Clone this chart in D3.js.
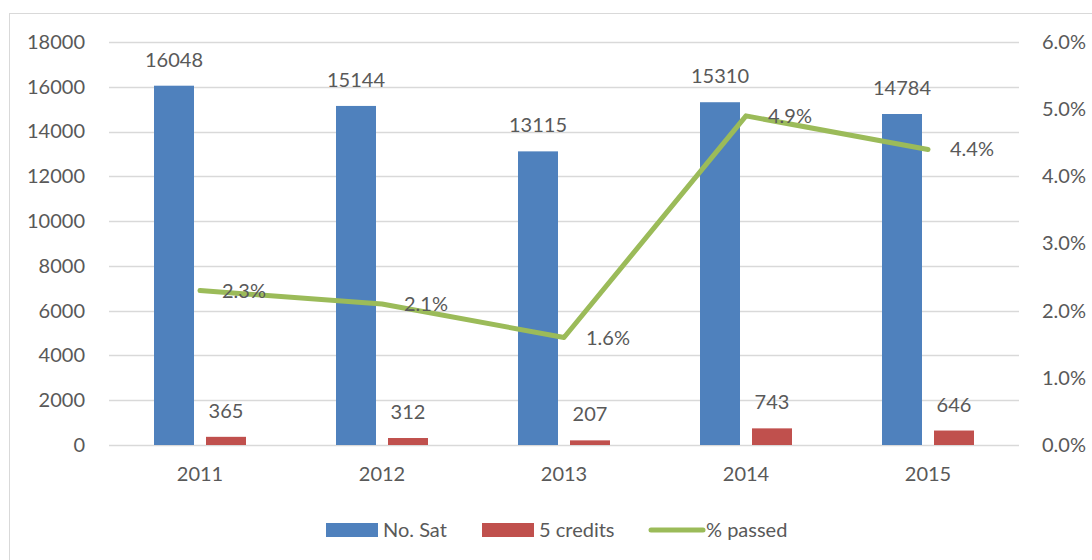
<!DOCTYPE html>
<html>
<head>
<meta charset="utf-8">
<script src="https://cdn.jsdelivr.net/npm/d3@7"></script>
<style>
  body { margin: 0; background: #fff; }
  text { font-family: Lato, "Open Sans", sans-serif; fill: #595959; }
</style>
</head>
<body>
<div id="chart"></div>
<script>
let years = ["2011", "2012", "2013", "2014", "2015"];
let noSat = [16048, 15144, 13115, 15310, 14784];
let credits = [365, 312, 207, 743, 646];
let passed = [2.3, 2.1, 1.6, 4.9, 4.4];
let leftTicks = [0, 2000, 4000, 6000, 8000, 10000, 12000, 14000, 16000, 18000];
let rightTicks = [0, 1, 2, 3, 4, 5, 6];

let svgWidth = 1092;
let svgHeight = 560;
let margin = { top: 42, right: 73, bottom: 115, left: 109 };
let chartWidth = svgWidth - margin.left - margin.right;
let chartHeight = svgHeight - margin.top - margin.bottom;
let fontSize = "20px";

let svg = d3.select("#chart").append("svg")
  .attr("width", svgWidth)
  .attr("height", svgHeight);

// outer frame
svg.append("rect")
  .attr("x", 9.5).attr("y", 13.5)
  .attr("width", svgWidth).attr("height", svgHeight)
  .attr("fill", "none")
  .attr("stroke", "#d9d9d9");

let g = svg.append("g")
  .attr("transform", `translate(${margin.left}, ${margin.top})`);

let x = d3.scaleBand().domain(years).range([0, chartWidth]);
let yLeft = d3.scaleLinear().domain([0, 18000]).range([chartHeight, 0]);
let yRight = d3.scaleLinear().domain([0, 6]).range([chartHeight, 0]);

// gridlines
g.append("g").selectAll("line")
  .data(leftTicks)
  .join("line")
  .attr("x1", 0).attr("x2", chartWidth)
  .attr("y1", d => Math.round(yLeft(d)) + 0.5)
  .attr("y2", d => Math.round(yLeft(d)) + 0.5)
  .attr("stroke", "#d9d9d9")
  .attr("stroke-width", 1.3);

// left axis
let leftAxis = d3.axisLeft(yLeft).tickValues(leftTicks).tickSize(0).tickPadding(24)
  .tickFormat(d => String(d));
g.append("g").call(leftAxis)
  .call(a => a.select(".domain").remove())
  .selectAll("text")
  .attr("font-size", fontSize);

// right axis
let rightAxis = d3.axisRight(yRight).tickValues(rightTicks).tickSize(0).tickPadding(23)
  .tickFormat(d => d.toFixed(1) + "%");
g.append("g").attr("transform", `translate(${chartWidth}, 0)`).call(rightAxis)
  .call(a => a.select(".domain").remove())
  .selectAll("text")
  .attr("font-size", fontSize);

// bottom axis
let bottomAxis = d3.axisBottom(x).tickSize(0).tickPadding(22);
g.append("g").attr("transform", `translate(0, ${chartHeight})`).call(bottomAxis)
  .call(a => a.select(".domain").remove())
  .selectAll("text")
  .attr("font-size", fontSize);

let barW = 40;
let gap = 12;

// blue bars
g.selectAll(".sat")
  .data(noSat)
  .join("rect")
  .attr("class", "sat")
  .attr("x", (d, i) => x(years[i]) + x.bandwidth() / 2 - gap / 2 - barW)
  .attr("y", d => yLeft(d))
  .attr("width", barW)
  .attr("height", d => chartHeight - yLeft(d))
  .attr("fill", "#4f81bd");

g.selectAll(".satLabel")
  .data(noSat)
  .join("text")
  .attr("class", "satLabel")
  .attr("x", (d, i) => x(years[i]) + x.bandwidth() / 2 - gap / 2 - barW / 2)
  .attr("y", d => yLeft(d) - 19)
  .attr("text-anchor", "middle")
  .attr("font-size", fontSize)
  .text(d => d);

// red bars
g.selectAll(".cred")
  .data(credits)
  .join("rect")
  .attr("class", "cred")
  .attr("x", (d, i) => x(years[i]) + x.bandwidth() / 2 + gap / 2)
  .attr("y", d => yLeft(d))
  .attr("width", barW)
  .attr("height", d => chartHeight - yLeft(d))
  .attr("fill", "#c0504d");

g.selectAll(".credLabel")
  .data(credits)
  .join("text")
  .attr("class", "credLabel")
  .attr("x", (d, i) => x(years[i]) + x.bandwidth() / 2 + gap / 2 + barW / 2)
  .attr("y", d => yLeft(d) - 19)
  .attr("text-anchor", "middle")
  .attr("font-size", fontSize)
  .text(d => d);

// % passed line
let line = d3.line()
  .x((d, i) => x(years[i]) + x.bandwidth() / 2)
  .y(d => yRight(d));

g.append("path")
  .datum(passed)
  .attr("d", line)
  .attr("fill", "none")
  .attr("stroke", "#9bbb59")
  .attr("stroke-width", 5)
  .attr("stroke-linecap", "round")
  .attr("stroke-linejoin", "round");

g.selectAll(".pctLabel")
  .data(passed)
  .join("text")
  .attr("class", "pctLabel")
  .attr("x", (d, i) => x(years[i]) + x.bandwidth() / 2 + 22)
  .attr("y", d => yRight(d))
  .attr("dy", "0.35em")
  .attr("font-size", fontSize)
  .text(d => d.toFixed(1) + "%");

// legend
let legend = svg.append("g").attr("transform", "translate(0, 530)");
let items = [
  { name: "No. Sat", color: "#4f81bd", type: "rect", x: 326 },
  { name: "5 credits", color: "#c0504d", type: "rect", x: 482 },
  { name: "% passed", color: "#9bbb59", type: "line", x: 649 }
];
items.forEach(function(it) {
  if (it.type === "rect") {
    legend.append("rect")
      .attr("x", it.x).attr("y", -7)
      .attr("width", 52).attr("height", 14)
      .attr("fill", it.color);
  } else {
    legend.append("line")
      .attr("x1", it.x + 2).attr("x2", it.x + 54)
      .attr("y1", 0).attr("y2", 0)
      .attr("stroke", it.color)
      .attr("stroke-width", 5)
      .attr("stroke-linecap", "round");
  }
  legend.append("text")
    .attr("x", it.x + 57)
    .attr("y", 0)
    .attr("dy", "0.35em")
    .attr("font-size", fontSize)
    .text(it.name);
});
</script>
</body>
</html>
